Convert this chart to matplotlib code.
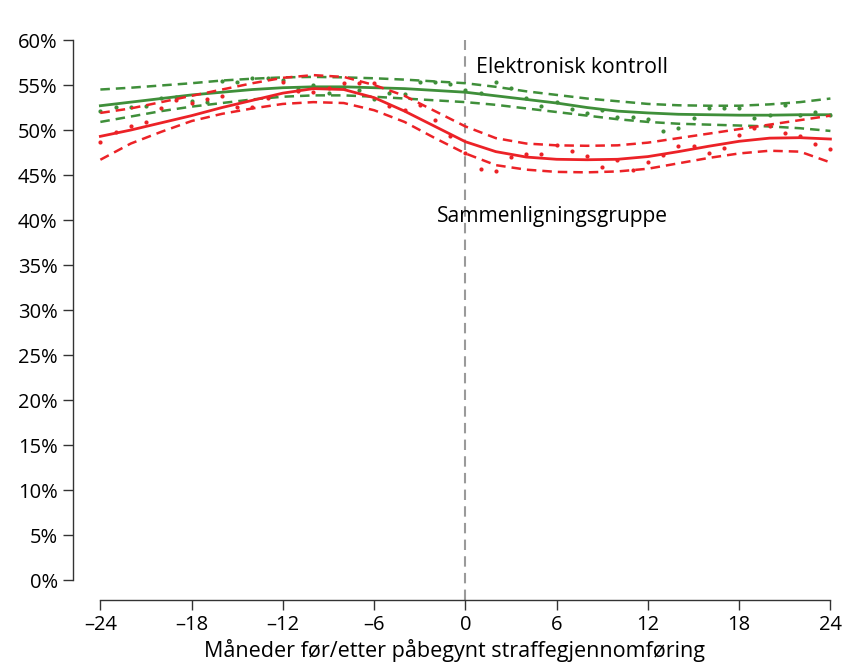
import numpy as np
import matplotlib
matplotlib.use("Agg")
import matplotlib.pyplot as plt

plt.rcParams['font.family'] = ['Open Sans', 'DejaVu Sans']

# monthly observed shares (%)
months = list(range(-24, 25))
green_obs = [52.1, 52.6, 52.6, 52.7, 53.6, 53.7, 53.2, 53.1, 55.4, 55.3,
             55.8, 55.8, 55.6, 54.6, 55.0, 54.1, 54.8, 54.5, 53.4, 54.1,
             54.0, 55.3, 55.3, 55.1, 54.4, 54.1, 55.3, 54.7, 53.6, 52.7,
             53.1, 52.3, 51.9, 52.2, 51.4, 51.4, 51.25, 49.9, 50.2, 51.3,
             52.4, 52.4, 52.4, 51.3, 51.7, 52.8, 51.7, 52.0, 51.7]
red_obs = [48.7, 49.8, 50.4, 50.9, 52.5, 53.3, 53.0, 53.4, 53.8, 52.6,
           52.6, 53.6, 55.3, 54.3, 54.2, 54.7, 55.2, 55.2, 55.2, 52.7,
           52.2, 52.8, 51.1, 49.3, 47.5, 45.7, 45.4, 47.0, 47.3, 47.3,
           48.3, 47.7, 47.1, 45.9, 46.7, 45.6, 46.4, 47.2, 48.2, 48.2,
           47.5, 48.0, 49.4, 50.2, 50.4, 49.7, 49.3, 48.5, 47.9]

# fitted curves with confidence bands, read every 2 months
fit_months = list(range(-24, 25, 2))
green_fit = [52.7, 53.1, 53.5, 53.9, 54.2, 54.5, 54.7, 54.8, 54.8, 54.7, 54.6, 54.4, 54.2,
             53.8, 53.4, 53.0, 52.5, 52.1, 51.9, 51.75, 51.7, 51.65, 51.65, 51.7, 51.7]
green_hi = [54.5, 54.7, 54.95, 55.2, 55.5, 55.7, 55.85, 55.9, 55.85, 55.75, 55.6, 55.4, 55.2,
            54.8, 54.3, 53.9, 53.5, 53.2, 52.9, 52.75, 52.7, 52.7, 52.85, 53.1, 53.5]
green_lo = [50.9, 51.5, 52.1, 52.6, 53.0, 53.4, 53.7, 53.85, 53.85, 53.7, 53.5, 53.3, 53.1,
            52.8, 52.4, 52.0, 51.6, 51.2, 50.9, 50.7, 50.6, 50.5, 50.4, 50.2, 49.9]
red_fit = [49.3, 50.0, 50.8, 51.6, 52.5, 53.3, 54.1, 54.6, 54.5, 53.6, 52.1, 50.4, 48.7,
           47.6, 47.0, 46.75, 46.7, 46.75, 47.05, 47.6, 48.2, 48.75, 49.1, 49.15, 49.0]
red_hi = [51.9, 52.4, 53.1, 53.8, 54.5, 55.2, 55.8, 56.1, 55.9, 55.0, 53.8, 52.1, 50.4,
          49.1, 48.5, 48.3, 48.25, 48.3, 48.6, 49.1, 49.6, 50.1, 50.6, 51.1, 51.6]
red_lo = [46.7, 48.5, 49.8, 51.0, 51.8, 52.4, 52.9, 53.1, 53.0, 52.2, 50.9, 49.1, 47.4,
          46.1, 45.6, 45.35, 45.3, 45.4, 45.7, 46.3, 46.9, 47.4, 47.7, 47.6, 46.4]

green = '#3f8f3a'
red = '#ec2227'

fig = plt.figure(figsize=(8.43, 6.64), dpi=100)
ax = fig.add_axes([73/843, 64/664, 763.5/843, 564.5/664])

ax.vlines(0, -2.2, 60, colors='#9a9a9a', linestyles=(0, (5, 3)), lw=1.5)

dash = (0, (3.8, 2.4))
for obs, fit, hi, lo, c in [(green_obs, green_fit, green_hi, green_lo, green),
                            (red_obs, red_fit, red_hi, red_lo, red)]:
    ax.plot(months, obs, 'o', ms=3, color=c, mec='none')
    ax.plot(fit_months, fit, color=c, lw=2)
    ax.plot(fit_months, hi, color=c, lw=1.8, ls=dash)
    ax.plot(fit_months, lo, color=c, lw=1.8, ls=dash)

ax.text(0.7, 56.9, 'Elektronisk kontroll', fontsize=15.3, va='center', ha='left')
ax.text(-1.85, 40.4, 'Sammenligningsgruppe', fontsize=15.1, va='center', ha='left')

ax.set_xlim(-25.8, 24.4)
ax.set_ylim(-2.2, 60.5)

xt = list(range(-24, 25, 6))
ax.set_xticks(xt)
ax.set_xticklabels([str(v).replace('-', '\u2013') for v in xt], fontsize=14.5)
yt = list(range(0, 61, 5))
ax.set_yticks(yt)
ax.set_yticklabels([f'{v}%' for v in yt], fontsize=14.5)

for s in ['top', 'right']:
    ax.spines[s].set_visible(False)
ax.spines['left'].set_bounds(0, 60)
ax.spines['bottom'].set_bounds(-24, 24)
for s in ['left', 'bottom']:
    ax.spines[s].set_color('#333333')
    ax.spines[s].set_linewidth(1)
ax.tick_params(colors='#333333', labelcolor='black', length=7, width=1, pad=4)

ax.set_xlabel('Måneder før/etter påbegynt straffegjennomføring', fontsize=15.5, labelpad=3)

fig.savefig('out.png', dpi=100)
